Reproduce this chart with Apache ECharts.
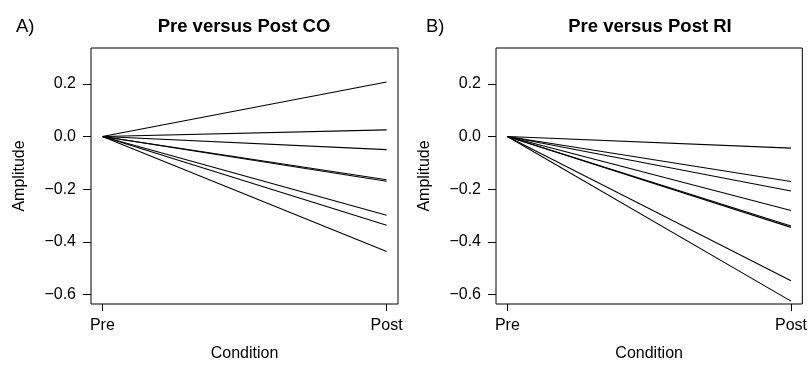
<!DOCTYPE html>
<html>
<head>
<meta charset="utf-8">
<script src="https://cdn.jsdelivr.net/npm/echarts@6/dist/echarts.min.js"></script>
<style>
html,body{margin:0;padding:0;background:#fff;}
#chart{width:810px;height:367px;}
</style>
</head>
<body>
<div id="chart"></div>
<script>
// ---- data ----
var conditions = ['Pre', 'Post'];
var panelTitles = ['Pre versus Post CO', 'Pre versus Post RI'];
var panelTags = ['A)', 'B)'];
var preValuesCO = [0, 0, 0, 0, 0, 0, 0, 0];
var postValuesCO = [0.207, 0.025, -0.050, -0.164, -0.170, -0.299, -0.337, -0.437];
var preValuesRI = [0, 0, 0, 0, 0, 0, 0, 0];
var postValuesRI = [-0.044, -0.171, -0.207, -0.281, -0.340, -0.345, -0.548, -0.625];
var yTickValues = [-0.6, -0.4, -0.2, 0.0, 0.2];
var xTickValues = [1, 2];
var yLimits = [-0.6, 0.3];
var xLimits = [1, 2];

// ---- helpers ----
var FONT = '"Liberation Sans", Arial, Helvetica, sans-serif';
function expand(lim) { var r = lim[1] - lim[0]; return [lim[0] - 0.04 * r, lim[1] + 0.04 * r]; }
var yl = expand(yLimits), xl = expand(xLimits);
function fmtY(v) { var s = Math.abs(v).toFixed(1); return (v < -1e-9 ? '\u2212' : '') + s; }

var grids = [
  {left: 91, top: 48, width: 307, height: 258},
  {left: 496, top: 48, width: 307, height: 258}
];

var xAxes = [], yAxes = [], series = [];
[[preValuesCO, postValuesCO], [preValuesRI, postValuesRI]].forEach(function (pair, gi) {
  xAxes.push({
    type: 'value', gridIndex: gi, min: xl[0], max: xl[1], position: 'bottom',
    name: 'Condition', nameLocation: 'middle', nameGap: 42,
    nameTextStyle: {fontFamily: FONT, fontSize: 16, color: '#000'},
    splitLine: {show: false},
    axisLine: {show: false, onZero: false},
    axisTick: {show: true, inside: false, length: 7, customValues: xTickValues, lineStyle: {color: '#000', width: 1}},
    axisLabel: {show: true, margin: 14, customValues: xTickValues, fontFamily: FONT, fontSize: 16, color: '#000',
      formatter: function (v) { return conditions[Math.round(v) - 1]; }}
  });
  yAxes.push({
    type: 'value', gridIndex: gi, min: yl[0], max: yl[1], position: 'left',
    name: 'Amplitude', nameLocation: 'middle', nameGap: 63, nameRotate: 90,
    nameTextStyle: {fontFamily: FONT, fontSize: 16, color: '#000'},
    splitLine: {show: false},
    axisLine: {show: false, onZero: false},
    axisTick: {show: true, inside: false, length: 8, customValues: yTickValues, lineStyle: {color: '#000', width: 1}},
    axisLabel: {show: true, margin: 15, customValues: yTickValues, fontFamily: FONT, fontSize: 16, color: '#000',
      formatter: fmtY}
  });
  var pre = pair[0], post = pair[1];
  for (var i = 0; i < post.length; i++) {
    series.push({
      type: 'line', xAxisIndex: gi, yAxisIndex: gi,
      data: [[xTickValues[0], pre[i]], [xTickValues[1], post[i]]],
      showSymbol: false, symbol: 'none', silent: true,
      lineStyle: {color: '#000', width: 1.1},
      animation: false
    });
  }
});

var chart = echarts.init(document.getElementById('chart'), null, {renderer: 'canvas'});
chart.setOption({
  backgroundColor: '#fff',
  animation: false,
  grid: grids.map(function (g) {
    return Object.assign({show: true, borderColor: '#000', borderWidth: 1, backgroundColor: 'transparent', containLabel: false}, g);
  }),
  xAxis: xAxes,
  yAxis: yAxes,
  series: series,
  graphic: [
    {type: 'text', x: 244, y: 27, style: {text: panelTitles[0], fontFamily: FONT, fontSize: 18.5, fontWeight: 'bold', fill: '#000', align: 'center', verticalAlign: 'middle'}},
    {type: 'text', x: 650, y: 27, style: {text: panelTitles[1], fontFamily: FONT, fontSize: 18.5, fontWeight: 'bold', fill: '#000', align: 'center', verticalAlign: 'middle'}},
    {type: 'text', x: 16, y: 27, style: {text: panelTags[0], fontFamily: FONT, fontSize: 18.5, fill: '#000', align: 'left', verticalAlign: 'middle'}},
    {type: 'text', x: 426, y: 27, style: {text: panelTags[1], fontFamily: FONT, fontSize: 18.5, fill: '#000', align: 'left', verticalAlign: 'middle'}}
  ]
});
</script>
</body>
</html>
